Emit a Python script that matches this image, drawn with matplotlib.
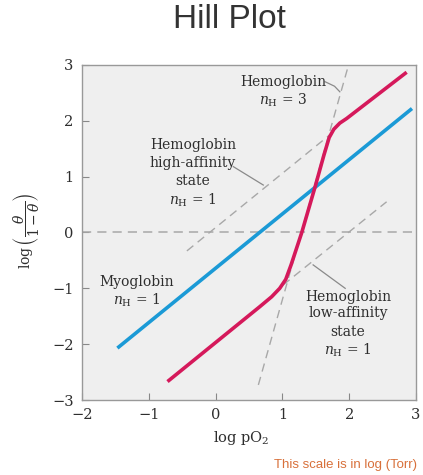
import matplotlib
matplotlib.use("Agg")
import matplotlib.pyplot as plt
import numpy as np

plt.rcParams['mathtext.fontset'] = 'dejavuserif'

# ---- data ----
myo_x = [-1.47, 2.94]
myo_y = [-2.07, 2.22]

hb_x = [-0.72, 0.66, 0.84, 0.96, 1.05, 1.13, 1.29, 1.49, 1.62, 1.70, 1.77, 1.86, 1.96, 2.86]
hb_y = [-2.67, -1.33, -1.15, -1.0, -0.84, -0.58, 0.0, 0.82, 1.38, 1.70, 1.85, 1.96, 2.04, 2.87]

steep_x = [0.64, 1.99]
steep_y = [-2.73, 3.0]
high_x = [-0.43, 1.71]
high_y = [-0.33, 1.75]
low_x = [1.01, 2.56]
low_y = [-0.94, 0.55]

xticks = [-2, -1, 0, 1, 2, 3]
yticks = [-3, -2, -1, 0, 1, 2, 3]

W, H = 423, 475
fig = plt.figure(figsize=(W / 100, H / 100), dpi=100)
ax = fig.add_axes([82 / W, 1 - 400 / H, (416 - 82) / W, (400 - 65) / H])
ax.set_facecolor('#efefef')
ax.set_xlim(-2, 3)
ax.set_ylim(-3, 3)

gray = '#a8a8a8'
dash = (0, (6, 4))
ax.axhline(0, color=gray, lw=1.1, ls=dash)
ax.plot(steep_x, steep_y, color=gray, lw=1.0, ls=dash)
ax.plot(high_x, high_y, color=gray, lw=1.0, ls=dash)
ax.plot(low_x, low_y, color=gray, lw=1.0, ls=dash)

ax.plot(myo_x, myo_y, color='#1b9ad6', lw=2.6, solid_capstyle='butt')
ax.plot(hb_x, hb_y, color='#d5195b', lw=2.6, solid_capstyle='butt', solid_joinstyle='round')

# leader lines
lc = '#8a8a8a'
ax.plot([1.64, 1.78, 1.86], [2.70, 2.62, 2.52], color=lc, lw=0.9)
ax.plot([0.265, 0.714], [1.18, 0.85], color=lc, lw=0.9)
ax.plot([1.46, 1.94], [-0.58, -1.0], color=lc, lw=0.9)

tf = dict(family='DejaVu Serif', fontsize=10, color='#2e2e2e', ha='center', va='center')
ax.text(1.01, 2.69, 'Hemoglobin', **tf)
ax.text(1.01, 2.37, r'$n_{\mathrm{H}}$ = 3', **tf)
for y, s in zip([1.57, 1.25, 0.92, 0.58], ['Hemoglobin', 'high-affinity', 'state', r'$n_{\mathrm{H}}$ = 1']):
    ax.text(-0.34, y, s, **tf)
ax.text(-1.18, -0.88, 'Myoglobin', **tf)
ax.text(-1.18, -1.21, r'$n_{\mathrm{H}}$ = 1', **tf)
for y, s in zip([-1.15, -1.45, -1.78, -2.11], ['Hemoglobin', 'low-affinity', 'state', r'$n_{\mathrm{H}}$ = 1']):
    ax.text(1.98, y, s, **tf)

ax.set_xticks(xticks)
ax.set_yticks(yticks)
ax.set_xticklabels([str(v).replace('-', '\u2212') for v in xticks], family='DejaVu Serif', fontsize=10.5, color='#2e2e2e')
ax.set_yticklabels([str(v).replace('-', '\u2212') for v in yticks], family='DejaVu Serif', fontsize=10.5, color='#2e2e2e')
ax.tick_params(direction='in', length=5, width=0.8, color='#888888', pad=6)
for sp in ax.spines.values():
    sp.set_color('#999999')
    sp.set_linewidth(1.0)

fig.text(229.5 / W, 1 - 20 / H, 'Hill Plot', family='Liberation Sans', fontsize=24,
         color='#333333', ha='center', va='center')
fig.text(241 / W, 1 - 438 / H, r'log pO$_2$', family='DejaVu Serif', fontsize=10.5,
         color='#2e2e2e', ha='center', va='center')
fig.text(345 / W, 1 - 465 / H, 'This scale is in log (Torr)', family='Liberation Sans',
         fontsize=9.5, color='#d8703a', ha='center', va='center')
fig.text(27 / W, 1 - 231 / H, r'$\log\left(\dfrac{\theta}{1-\theta}\right)$', fontsize=10,
         color='#2e2e2e', ha='center', va='center', rotation=90)

fig.savefig('out.png', dpi=100, facecolor='white')
